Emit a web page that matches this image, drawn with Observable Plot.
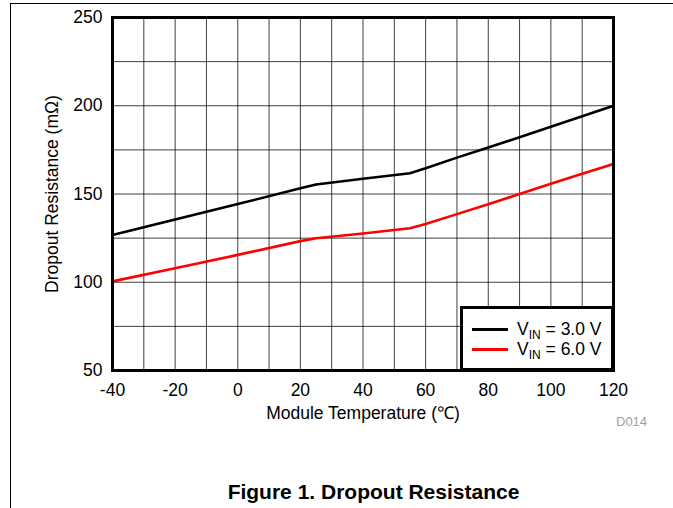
<!DOCTYPE html>
<html>
<head>
<meta charset="utf-8">
<script src="https://cdn.jsdelivr.net/npm/d3@7"></script>
<script src="https://cdn.jsdelivr.net/npm/@observablehq/plot@0.6"></script>
<style>
  html, body { margin: 0; padding: 0; background: #fff; }
  body { font-family: "Liberation Sans", Arial, sans-serif; }
  #wrap { position: relative; width: 673px; height: 508px; overflow: hidden; }
  #border { position: absolute; left: 10px; top: 3px; right: -5px; bottom: -5px; border-top: 1px solid #000; border-left: 1px solid #000; }
  #chart { position: absolute; left: 0; top: 0; }
  #legend { position: absolute; left: 460px; top: 306px; width: 148px; height: 59px; border: 3px solid #000; background: #fff; }
  .lg { position: absolute; left: 9px; width: 36px; height: 3px; }
  .lt { position: absolute; left: 54px; font-size: 17.5px; line-height: 20px; white-space: nowrap; color: #000; }
  .lt sub { font-size: 12px; vertical-align: -4px; line-height: 0; }
  #code { position: absolute; left: 616px; top: 414px; font-size: 13px; color: #a0a0a0; }
  #caption { position: absolute; left: 0; width: 747px; top: 480px; text-align: center; font-size: 21px; font-weight: bold; color: #000; }
</style>
</head>
<body>
<div id="wrap">
  <div id="border"></div>
  <div id="chart"></div>
  <div id="legend"></div>
  <div id="code">D014</div>
  <div id="caption">Figure 1. Dropout Resistance</div>
</div>
<script>
// Series: VIN = 3.0 V
const temp3 = [-40, -20, 0, 20, 25, 40, 55, 60, 70, 80, 90, 100, 110, 120];
const res3  = [126.8, 135.6, 144.3, 153.2, 155.4, 158.6, 161.8, 164.6, 170.6, 176.4, 182.1, 188.1, 194.0, 200.0];
// Series: VIN = 6.0 V
const temp6 = [-40, -20, 0, 20, 25, 40, 55, 60, 70, 80, 90, 100, 110, 120];
const res6  = [100.5, 107.9, 115.5, 123.3, 124.9, 127.6, 130.6, 133.0, 138.6, 144.2, 150.0, 155.8, 161.5, 167.0];

const seriesNames = ["3.0 V", "6.0 V"];
const seriesColors = ["#000000", "#ff0000"];

const xTicks = [-40, -20, 0, 20, 40, 60, 80, 100, 120];
const yTicks = [50, 100, 150, 200, 250];
const xGrid = [-30, -20, -10, 0, 10, 20, 30, 40, 50, 60, 70, 80, 90, 100, 110];
const yGrid = [75, 100, 125, 150, 175, 200, 225];

const rows = [
  ...temp3.map((t, i) => ({t, r: res3[i], s: seriesNames[0]})),
  ...temp6.map((t, i) => ({t, r: res6[i], s: seriesNames[1]}))
];

const chart = Plot.plot({
  width: 673,
  height: 430,
  marginLeft: 112,
  marginRight: 60,
  marginTop: 17,
  marginBottom: 60,
  style: {fontFamily: '"Liberation Sans", Arial, sans-serif', fontSize: "17.5px", color: "#000", background: "transparent"},
  x: {domain: [-40, 120], ticks: xTicks, tickSize: 0, tickPadding: 13, tickFormat: d => String(d),
      label: "Module Temperature (\u2103)", labelAnchor: "center", labelOffset: 48, labelArrow: "none"},
  y: {domain: [50, 250], ticks: yTicks, tickSize: 0, tickPadding: 10, tickFormat: d => String(d),
      label: "Dropout Resistance (m\u03A9)", labelAnchor: "center", labelOffset: 67, labelArrow: "none"},
  color: {domain: seriesNames, range: seriesColors},
  marks: [
    Plot.ruleX(xGrid, {stroke: "#000", strokeOpacity: 0.75, strokeWidth: 1}),
    Plot.ruleY(yGrid, {stroke: "#000", strokeOpacity: 0.75, strokeWidth: 1}),
    Plot.line(rows, {x: "t", y: "r", z: "s", stroke: "s", strokeWidth: 2.6, curve: "linear"}),
    Plot.frame({stroke: "#000", strokeWidth: 3})
  ]
});
document.getElementById("chart").appendChild(chart);

// Legend
const legend = document.getElementById("legend");
seriesNames.forEach((name, i) => {
  const ln = document.createElement("div");
  ln.className = "lg";
  ln.style.top = (19 + i * 20) + "px";
  ln.style.background = seriesColors[i];
  legend.appendChild(ln);
  const tx = document.createElement("div");
  tx.className = "lt";
  tx.style.top = (10 + i * 20) + "px";
  tx.innerHTML = "V<sub>IN</sub> = " + name;
  legend.appendChild(tx);
});
</script>
</body>
</html>
